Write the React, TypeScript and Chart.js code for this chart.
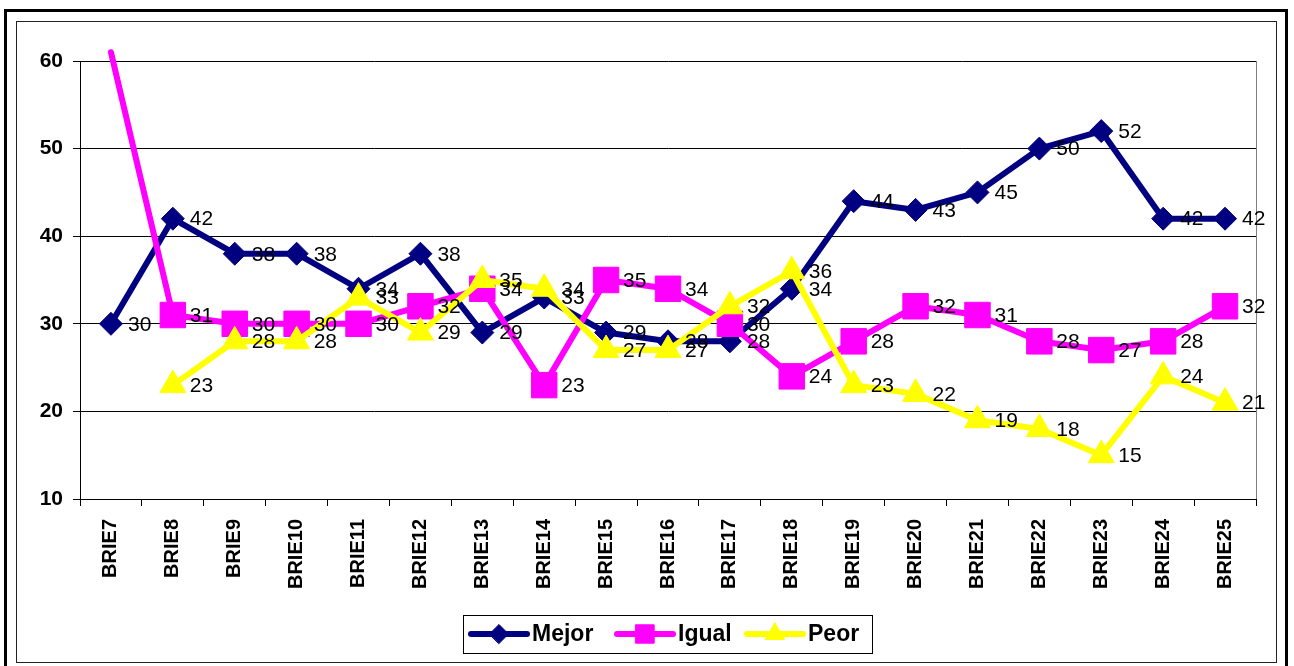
import React, { useEffect, useRef } from 'react';
import { Chart, registerables } from 'chart.js';
import { drawPoint } from 'chart.js/helpers';
Chart.register(...registerables);

const categories = ['BRIE7','BRIE8','BRIE9','BRIE10','BRIE11','BRIE12','BRIE13','BRIE14','BRIE15','BRIE16','BRIE17','BRIE18','BRIE19','BRIE20','BRIE21','BRIE22','BRIE23','BRIE24','BRIE25'];
const mejor = [30,42,38,38,34,38,29,33,29,28,28,34,44,43,45,50,52,42,42];
const igual = [61,31,30,30,30,32,34,23,35,34,30,24,28,32,31,28,27,28,32];
const peor = [null,23,28,28,33,29,35,34,27,27,32,36,23,22,19,18,15,24,21];
const yTicks = [10,20,30,40,50,60];
const seriesNames = ['Mejor','Igual','Peor'];
const seriesColors = ['#000080','#FF00FF','#FFFF00'];
const seriesStyles = ['rectRot','rect','triangle'];
const seriesRadius = [11.5,18,15];
const legendRadius = [9.5,13,11];

const FONT = '"Liberation Sans", Arial, sans-serif';
const Y_MIN = 10;
const Y_MAX = 60;

const framePlugin = {
  id: 'frame',
  beforeDraw(chart: any) {
    const ctx = chart.ctx;
    ctx.save();
    ctx.fillStyle = '#fff';
    ctx.fillRect(0, 0, chart.width, chart.height);
    ctx.strokeStyle = '#000';
    ctx.lineWidth = 3;
    ctx.strokeRect(5.5, 10.5, 1281, 660);
    ctx.lineWidth = 1;
    ctx.strokeStyle = '#222';
    ctx.strokeRect(16.5, 21.5, 1260, 641);
    const a = chart.chartArea;
    ctx.strokeStyle = '#808080';
    ctx.beginPath();
    ctx.moveTo(Math.round(a.right) + 0.5, a.top);
    ctx.lineTo(Math.round(a.right) + 0.5, a.bottom);
    ctx.stroke();
    ctx.restore();
  },
};

const labelPlugin = {
  id: 'labels',
  afterDatasetsDraw(chart: any) {
    const ctx = chart.ctx;
    ctx.save();
    ctx.font = `21px ${FONT}`;
    ctx.fillStyle = '#000';
    ctx.textAlign = 'left';
    ctx.textBaseline = 'middle';
    chart.data.datasets.forEach((ds: any, i: number) => {
      const meta = chart.getDatasetMeta(i);
      meta.data.forEach((pt: any, j: number) => {
        const v = ds.data[j];
        if (v === null || v === undefined || v > Y_MAX || v < Y_MIN) return;
        ctx.fillText(String(v), pt.x + 17, pt.y + 1);
      });
    });
    ctx.restore();
  },
};

const legendPlugin = {
  id: 'customLegend',
  afterDraw(chart: any) {
    const ctx = chart.ctx;
    ctx.save();
    ctx.strokeStyle = '#000';
    ctx.lineWidth = 1;
    ctx.strokeRect(463.5, 615.5, 409, 38);
    const starts = [468, 614, 744];
    const cy = 634;
    seriesNames.forEach((name, i) => {
      const x0 = starts[i];
      ctx.strokeStyle = seriesColors[i];
      ctx.lineWidth = 6;
      ctx.lineCap = 'round';
      ctx.beginPath();
      ctx.moveTo(x0 + 3, cy);
      ctx.lineTo(x0 + 59, cy);
      ctx.stroke();
      ctx.fillStyle = seriesColors[i];
      ctx.strokeStyle = seriesColors[i];
      ctx.lineWidth = 1;
      drawPoint(ctx, { pointStyle: seriesStyles[i], radius: legendRadius[i], rotation: 0, borderWidth: 1 } as any, x0 + 31, cy);
      ctx.fillStyle = '#000';
      ctx.font = `bold 23px ${FONT}`;
      ctx.textAlign = 'left';
      ctx.textBaseline = 'middle';
      ctx.fillText(name, x0 + 64, cy + 1);
    });
    ctx.restore();
  },
};

export default function App() {
  const ref = useRef<HTMLCanvasElement | null>(null);
  useEffect(() => {
    if (!ref.current) return;
    const series = [mejor, igual, peor];
    const chart = new Chart(ref.current, {
      type: 'line',
      data: {
        labels: categories,
        datasets: series.map((d, i) => ({
          label: seriesNames[i],
          data: d,
          borderColor: seriesColors[i],
          backgroundColor: seriesColors[i],
          borderWidth: 6,
          borderCapStyle: 'round',
          borderJoinStyle: 'round',
          pointStyle: seriesStyles[i],
          pointRadius: (c: any) => {
            const v = c.raw;
            return v === null || v > Y_MAX || v < Y_MIN ? 0 : seriesRadius[i];
          },
          pointBorderWidth: 1,
          pointBorderColor: seriesColors[i],
          pointBackgroundColor: seriesColors[i],
          tension: 0,
          spanGaps: false,
          clip: 20,
          order: 3 - i,
        })) as any,
      },
      options: {
        responsive: false,
        animation: false,
        devicePixelRatio: 1,
        layout: { padding: { top: 61, right: 38, left: 0, bottom: 0 } },
        plugins: { legend: { display: false }, tooltip: { enabled: false } },
        scales: {
          x: {
            type: 'category',
            offset: true,
            grid: { offset: true, drawOnChartArea: false, drawTicks: true, tickLength: 7, color: '#000' },
            border: { color: '#000', width: 1 },
            ticks: {
              autoSkip: false,
              maxRotation: 90,
              minRotation: 90,
              color: '#000',
              padding: 13,
              font: { family: FONT, size: 20, weight: 'bold' },
            },
            afterFit: (s: any) => { s.height = 167; },
          },
          y: {
            min: Y_MIN,
            max: Y_MAX,
            afterBuildTicks: (s: any) => { s.ticks = yTicks.map((v) => ({ value: v })); },
            grid: { color: '#000', tickLength: 7 },
            border: { color: '#000', width: 1 },
            ticks: {
              color: '#000',
              padding: 10,
              font: { family: FONT, size: 21, weight: 'bold' },
            },
            afterFit: (s: any) => { s.width = 80; },
          },
        },
      } as any,
      plugins: [framePlugin, labelPlugin, legendPlugin],
    });
    return () => chart.destroy();
  }, []);
  return (
    <div style={{ position: 'fixed', left: 0, top: 0, width: 1294, height: 666, background: '#fff' }}>
      <canvas ref={ref} width={1294} height={666} style={{ display: 'block', width: 1294, height: 666 }} />
    </div>
  );
}
